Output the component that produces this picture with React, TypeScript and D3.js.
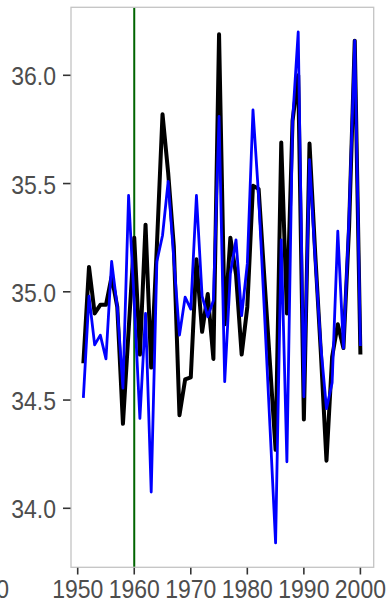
import React from "react";
import * as d3 from "d3";

const years: number[] = d3.range(1951, 2001);

const blackSeries: number[] = [
  34.67, 35.115, 34.9, 34.94, 34.94, 35.07, 34.93, 34.39, 34.82, 35.25,
  34.71, 35.31, 34.65, 35.21, 35.82, 35.55, 35.21, 34.43, 34.595, 34.605,
  35.15, 34.815, 34.99, 34.69, 36.19, 34.85, 35.25, 35.08, 34.71, 34.93,
  35.49, 35.475, 35.07, 34.67, 34.27, 35.69, 34.9, 35.79, 36.0, 34.41,
  35.685, 35.18, 34.72, 34.22, 34.7, 34.85, 34.74, 35.3, 36.16, 34.71,
];

const blueSeries: number[] = [
  34.51, 34.98, 34.755, 34.8, 34.69, 35.14, 34.93, 34.555, 35.445, 34.95,
  34.415, 34.9, 34.075, 35.14, 35.26, 35.51, 35.15, 34.8, 34.975, 34.92,
  35.445, 34.98, 34.885, 34.96, 35.81, 34.585, 35.085, 35.24, 34.89, 35.13,
  35.84, 35.44, 34.92, 34.38, 33.84, 35.24, 34.215, 35.79, 36.2, 34.515,
  35.61, 35.15, 34.75, 34.46, 34.58, 35.28, 34.74, 35.35, 36.16, 34.75,
];

const xTicks: number[] = [1950, 1960, 1970, 1980, 1990, 2000];
const yTicks: number[] = [34.0, 34.5, 35.0, 35.5, 36.0];
const markerYear = 1960;
const neighbourLabel = "2000";

export default function App() {
  const W = 389;
  const H = 604;
  const panel = { left: 71, right: 373.7, top: 7.3, bottom: 567.3 };

  const x = d3.scaleLinear().domain([1950, 2000]).range([77.7, 360.4]);
  const y = d3.scaleLinear().domain([34, 36]).range([508.3, 75.3]);

  const line = d3
    .line<number>()
    .x((_, i) => x(years[i]))
    .y((d) => y(d));

  const fontSize = 23;
  const sy = 1.12;
  const labelColor = "#4D4D4D";
  const tickColor = "#333333";
  const ff = "'Liberation Sans', Arial, sans-serif";

  return (
    <svg
      width={W}
      height={H}
      style={{ position: "absolute", left: 0, top: 0, display: "block", background: "#fff" }}
    >
      <rect x={0} y={0} width={W} height={H} fill="#ffffff" />
      <line
        x1={x(markerYear)}
        x2={x(markerYear)}
        y1={panel.top}
        y2={panel.bottom}
        stroke="#006400"
        strokeWidth={2}
      />
      <path
        d={line(blackSeries) || ""}
        fill="none"
        stroke="#000000"
        strokeWidth={4}
        strokeLinejoin="round"
      />
      <path
        d={line(blueSeries) || ""}
        fill="none"
        stroke="#0000FF"
        strokeWidth={2.8}
        strokeLinejoin="round"
      />
      <rect
        x={panel.left}
        y={panel.top}
        width={panel.right - panel.left}
        height={panel.bottom - panel.top}
        fill="none"
        stroke="#C4C4C4"
        strokeWidth={1.3}
      />
      {yTicks.map((t) => (
        <g key={"y" + t}>
          <line x1={63} x2={panel.left - 0.5} y1={y(t)} y2={y(t)} stroke={tickColor} strokeWidth={1.6} />
          <text
            transform={`translate(56,${y(t) + 10}) scale(1,${sy})`}
            textAnchor="end"
            fontFamily={ff}
            fontSize={fontSize}
            fill={labelColor}
          >
            {t.toFixed(1)}
          </text>
        </g>
      ))}
      {xTicks.map((t) => (
        <g key={"x" + t}>
          <line x1={x(t)} x2={x(t)} y1={panel.bottom + 0.5} y2={574.5} stroke={tickColor} strokeWidth={1.6} />
          <text
            transform={`translate(${x(t)},598) scale(1,${sy})`}
            textAnchor="middle"
            fontFamily={ff}
            fontSize={fontSize}
            fill={labelColor}
          >
            {t}
          </text>
        </g>
      ))}
      <text
        transform={`translate(9,598) scale(1,${sy})`}
        textAnchor="end"
        fontFamily={ff}
        fontSize={fontSize}
        fill={labelColor}
      >
        {neighbourLabel}
      </text>
    </svg>
  );
}
